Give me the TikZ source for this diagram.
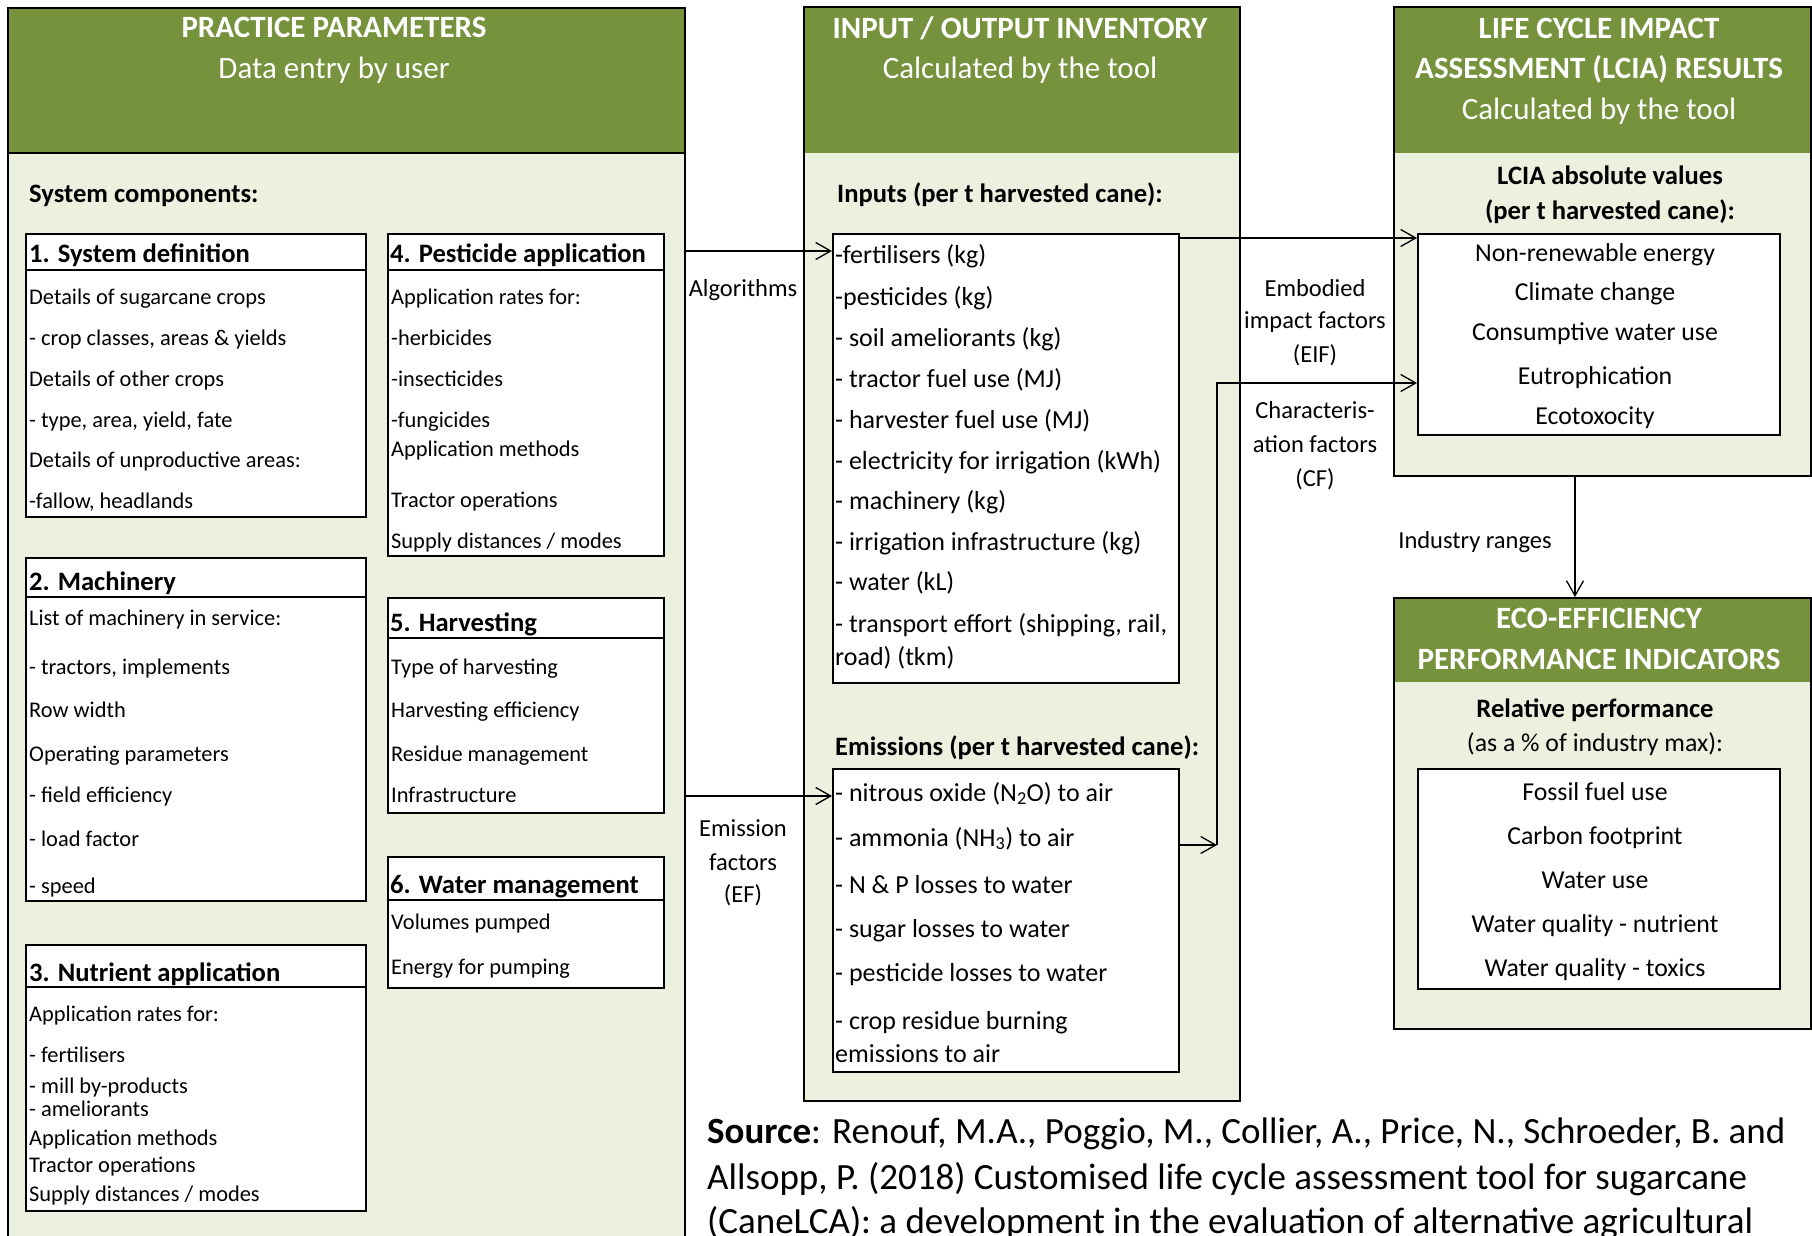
\documentclass[tikz,border=0pt]{standalone}
\usepackage{fontspec}
\setmainfont{Carlito}
\usepackage{tikz}
\usetikzlibrary{arrows.meta}

\definecolor{hdrgreen}{HTML}{76923C}
\definecolor{panelgreen}{HTML}{EBF1DE}

\begin{document}
\begin{tikzpicture}[
    x=1pt, y=-1pt,
    panel/.style={rectangle, draw, line width=1.8pt, fill=panelgreen, anchor=north west, inner sep=0pt,
        path picture={\fill[hdrgreen] (path picture bounding box.north west) rectangle ([yshift=-#1]path picture bounding box.north east);}},
    inbox/.style={rectangle, draw, line width=1.8pt, fill=white, anchor=north west, inner sep=0pt},
    hdr/.style={text=white, font=\fontsize{31}{37}\selectfont, anchor=base, inner sep=0pt},
    hdrbold/.style={hdr, font=\fontsize{31}{37}\selectfont\bfseries},
    btitle/.style={font=\fontsize{26.6}{32}\selectfont\bfseries, anchor=base west, inner sep=0pt},
    ctitle/.style={btitle, anchor=base},
    item/.style={font=\fontsize{22.4}{27}\selectfont, anchor=base west, inner sep=0pt},
    mitem/.style={font=\fontsize{26}{31}\selectfont, anchor=base west, inner sep=0pt},
    ritem/.style={font=\fontsize{25.8}{31}\selectfont, anchor=base, inner sep=0pt},
    lbl/.style={font=\fontsize{24.5}{29}\selectfont, anchor=base, inner sep=0pt},
    src/.style={font=\fontsize{37}{44}\selectfont, anchor=base west, inner sep=0pt},
    arrow/.style={-{Straight Barb[length=15pt,width=17pt]}, line width=1.3pt},
]
    \useasboundingbox (0,0) rectangle (1812,1236);

    \node[panel=146pt, minimum width=677, minimum height=1260] (pp) at (7,7) {};
    \draw[line width=1.8pt] ([yshift=-146pt]pp.north west) -- ([yshift=-146pt]pp.north east);
    \node[panel=146pt, minimum width=436, minimum height=1094] (io) at (803,6) {};
    \node[panel=146pt, minimum width=417, minimum height=469] (lcia) at (1393,6) {};
    \node[panel=84pt, minimum width=417, minimum height=431] (eco) at (1393,597) {};

    \node[hdrbold] (pp-h1) at (334,38) {PRACTICE PARAMETERS};
    \node[hdr] (pp-h2) at (334,79) {Data entry by user};
    \node[hdrbold] (io-h1) at (1020,39) {INPUT / OUTPUT INVENTORY};
    \node[hdr] (io-h2) at (1020,79) {Calculated by the tool};
    \node[hdrbold] (lcia-h1) at (1599,39) {LIFE CYCLE IMPACT};
    \node[hdrbold] (lcia-h2) at (1599,79) {ASSESSMENT (LCIA) RESULTS};
    \node[hdr] (lcia-h3) at (1599,120) {Calculated by the tool};
    \node[hdrbold] (eco-h1) at (1599,628) {ECO-EFFICIENCY};
    \node[hdrbold] (eco-h2) at (1599,669) {PERFORMANCE INDICATORS};

    \node[btitle] (syscomp) at (29,202) {System components:};
    \node[btitle] (inputs) at (837,202) {Inputs (per t harvested cane):};
    \node[btitle] (emissions) at (835,755) {Emissions (per t harvested cane):};
    \node[ctitle] (lcia-t1) at (1610,184) {LCIA absolute values};
    \node[ctitle] (lcia-t2) at (1610,219) {(per t harvested cane):};
    \node[ctitle] (eco-t1) at (1595,717) {Relative performance};
    \node[ritem] (eco-t2) at (1595,751) {(as a \% of industry max):};

    \foreach \n/\x/\y/\w/\h/\s in {sd/25/233/340/283/37, mc/25/557/340/343/40, na/25/944/340/266/43,
        pa/387/233/276/322/37, hv/387/597/276/215/41, wm/387/856/276/131/44} {
        \node[inbox, minimum width=\w, minimum height=\h] (\n) at (\x,\y) {};
        \draw[line width=1.8pt] ([yshift=-\s*1pt]\n.north west) -- ([yshift=-\s*1pt]\n.north east);
    }
    \node[btitle] (sd-t) at (29,262) {1. System definition};
    \node[btitle] (mc-t) at (29,590) {2. Machinery};
    \node[btitle] (na-t) at (29,981) {3. Nutrient application};
    \node[btitle] (pa-t) at (390,262) {4. Pesticide application};
    \node[btitle] (hv-t) at (390,631) {5. Harvesting};
    \node[btitle] (wm-t) at (390,893) {6. Water management};

    \foreach \y/\t [count=\i] in {304/Details of sugarcane crops, 345/{- crop classes, areas \& yields},
        386/Details of other crops, 427/{- type, area, yield, fate}, 467/Details of unproductive areas:,
        508/{-fallow, headlands}}
        \node[item] (sd-\i) at (29,\y) {\t};
    \foreach \y/\t [count=\i] in {625/List of machinery in service:, 674/{- tractors, implements},
        717/Row width, 761/Operating parameters, 802/- field efficiency, 846/- load factor, 893/- speed}
        \node[item] (mc-\i) at (29,\y) {\t};
    \foreach \y/\t [count=\i] in {1021/Application rates for:, 1062/- fertilisers, 1093/- mill by-products,
        1116/- ameliorants, 1145/Application methods, 1172/Tractor operations, 1201/{Supply distances / modes}}
        \node[item] (na-\i) at (29,\y) {\t};
    \foreach \y/\t [count=\i] in {304/Application rates for:, 345/-herbicides, 386/-insecticides,
        427/-fungicides, 456/Application methods, 507/Tractor operations, 548/{Supply distances / modes}}
        \node[item] (pa-\i) at (391,\y) {\t};
    \foreach \y/\t [count=\i] in {674/Type of harvesting, 717/Harvesting efficiency,
        761/Residue management, 802/Infrastructure}
        \node[item] (hv-\i) at (391,\y) {\t};
    \foreach \y/\t [count=\i] in {929/Volumes pumped, 974/Energy for pumping}
        \node[item] (wm-\i) at (391,\y) {\t};

    \node[inbox, minimum width=346, minimum height=449] (inbx) at (832,233) {};
    \node[inbox, minimum width=346, minimum height=303] (embx) at (832,768) {};
    \node[inbox, minimum width=362, minimum height=201] (lcbx) at (1417,233) {};
    \node[inbox, minimum width=362, minimum height=220] (ecbx) at (1417,768) {};

    \foreach \y/\t [count=\i] in {263/-fertilisers (kg), 305/-pesticides (kg), 346/- soil ameliorants (kg),
        387/- tractor fuel use (MJ), 428/- harvester fuel use (MJ), 469/- electricity for irrigation (kWh),
        509/- machinery (kg), 550/- irrigation infrastructure (kg), 590/- water (kL),
        632/{- transport effort (shipping, rail,}, 665/road) (tkm)}
        \node[mitem] (in-\i) at (835,\y) {\t};
    \foreach \y/\t [count=\i] in {801/{- nitrous oxide (N\textsubscript{2}O) to air},
        846/{- ammonia (NH\textsubscript{3}) to air}, 893/- N \& P losses to water,
        937/- sugar losses to water, 981/- pesticide losses to water,
        1029/- crop residue burning, 1062/emissions to air}
        \node[mitem] (em-\i) at (835,\y) {\t};

    \foreach \y/\t [count=\i] in {261/Non-renewable energy, 300/Climate change, 340/Consumptive water use,
        384/Eutrophication, 424/Ecotoxocity}
        \node[ritem] (lc-\i) at (1595,\y) {\t};
    \foreach \y/\t [count=\i] in {800/Fossil fuel use, 844/Carbon footprint, 888/Water use,
        932/Water quality - nutrient, 976/Water quality - toxics}
        \node[ritem] (ec-\i) at (1595,\y) {\t};

    \coordinate (alg) at (684,251);
    \coordinate (ef) at (684,796);
    \coordinate (eif) at (1178,238);
    \coordinate (cf) at (1217,845);
    \coordinate (cftop) at (1217,383);
    \coordinate (ir) at (1575,475);

    \draw[arrow] (alg) -- (alg -| inbx.west);
    \draw[arrow] (ef) -- (ef -| embx.west);
    \draw[arrow] (eif) -- (eif -| lcbx.west);
    \draw[arrow] (cf -| embx.east) -- (cf);
    \draw[arrow] (cf) -- (cftop) -- (cftop -| lcbx.west);
    \draw[arrow] (ir) -- (ir |- eco.north);

    \node[lbl] (alg-l) at (743,296) {Algorithms};
    \foreach \y/\t [count=\i] in {836/Emission, 870/factors, 902/(EF)}
        \node[lbl] (ef-l\i) at (743,\y) {\t};
    \foreach \y/\t [count=\i] in {296/Embodied, 328/impact factors, 362/(EIF)}
        \node[lbl] (eif-l\i) at (1315,\y) {\t};
    \foreach \y/\t [count=\i] in {418/Characteris-, 452/ation factors, 486/(CF)}
        \node[lbl] (cf-l\i) at (1315,\y) {\t};
    \node[lbl] (ir-l) at (1475,548) {Industry ranges};

    \node[src] (src-1) at (707,1143) {\textbf{Source}: Renouf, M.A., Poggio, M., Collier, A., Price, N., Schroeder, B. and};
    \node[src] (src-2) at (707,1189) {Allsopp, P. (2018) Customised life cycle assessment tool for sugarcane};
    \node[src] (src-3) at (707,1233) {(CaneLCA): a development in the evaluation of alternative agricultural};
\end{tikzpicture}
\end{document}
